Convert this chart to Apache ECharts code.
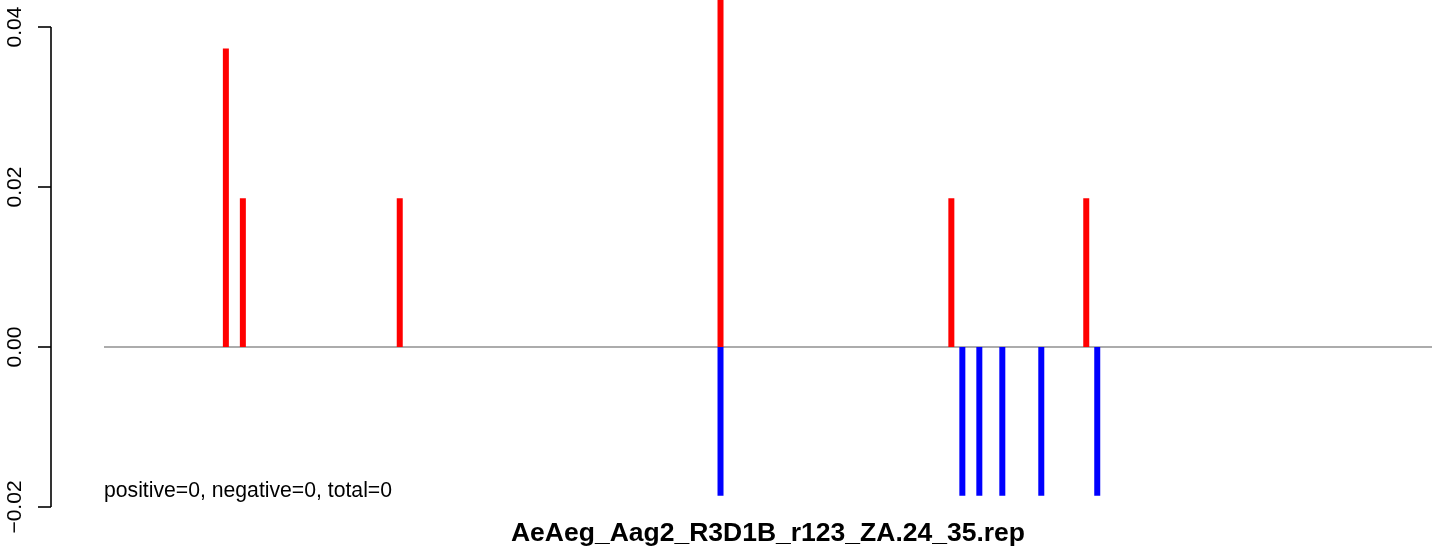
<!DOCTYPE html>
<html>
<head>
<meta charset="utf-8">
<script src="https://cdn.jsdelivr.net/npm/echarts@6/dist/echarts.min.js"></script>
<style>html,body{margin:0;padding:0;background:#fff}#c{width:1444px;height:550px}</style>
</head>
<body>
<div id="c"></div>
<script>
// positions along the sequence (plot units) and heights
var posX = [122, 139, 296, 617, 848, 983];
var posY = [0.0373, 0.0186, 0.0186, 0.0556, 0.0186, 0.0186];
var negX = [617, 859, 876, 899, 938, 994];
var negY = [-0.0186, -0.0186, -0.0186, -0.0186, -0.0186, -0.0186];
var seqRange = [0, 1329];
var yTicks = [-0.02, 0.00, 0.02, 0.04];
var titleText = 'AeAeg_Aag2_R3D1B_r123_ZA.24_35.rep';
var noteText = 'positive=0, negative=0, total=0';

var barData = [];
posX.forEach(function (x, i) { barData.push([x, posY[i]]); });
negX.forEach(function (x, i) { barData.push([x, negY[i]]); });

var chart = echarts.init(document.getElementById('c'));
var font = '"Liberation Sans", Arial, Helvetica, sans-serif';
var axisX = -53;
chart.setOption({
  animation: false,
  backgroundColor: '#fff',
  grid: { left: 51, right: 12, top: 0, bottom: 43, containLabel: false },
  xAxis: {
    type: 'value', min: axisX, max: seqRange[1], show: false
  },
  yAxis: {
    type: 'value', min: -0.02, max: 0.043375, interval: 0.02,
    axisLine: { show: false, onZero: false },
    axisTick: { show: true, length: 13, lineStyle: { color: '#000', width: 1.6 },
      customValues: yTicks },
    splitLine: { show: false },
    axisLabel: {
      customValues: yTicks,
      rotate: 90, margin: 25, color: '#000', fontSize: 21, fontFamily: font,
      formatter: function (v) { return (v < 0 ? '\u2212' : '') + Math.abs(v).toFixed(2); }
    }
  },
  series: [
    {
      type: 'line', data: [[seqRange[0], 0], [seqRange[1], 0]], symbol: 'none',
      lineStyle: { color: '#5a5a5a', width: 1.2 }, silent: true, z: 1
    },
    {
      type: 'bar', data: barData, barWidth: 6, z: 2,
      itemStyle: { color: function (p) { return p.value[1] > 0 ? '#ff0000' : '#0000ff'; } }
    },
    {
      type: 'line', data: [[axisX, yTicks[0]], [axisX, yTicks[yTicks.length - 1]]], symbol: 'none',
      clip: false, lineStyle: { color: '#000', width: 1.6 }, silent: true, z: 3
    }
  ],
  graphic: [
    { type: 'text', x: 104, y: 491, style: { text: noteText, fontSize: 21.2, fontFamily: font, fill: '#000', textVerticalAlign: 'middle' } },
    { type: 'text', x: 768, y: 534, style: { text: titleText, fontSize: 26.5, fontWeight: 'bold', fontFamily: font, fill: '#000', textAlign: 'center', textVerticalAlign: 'middle' } }
  ]
});
</script>
</body>
</html>
